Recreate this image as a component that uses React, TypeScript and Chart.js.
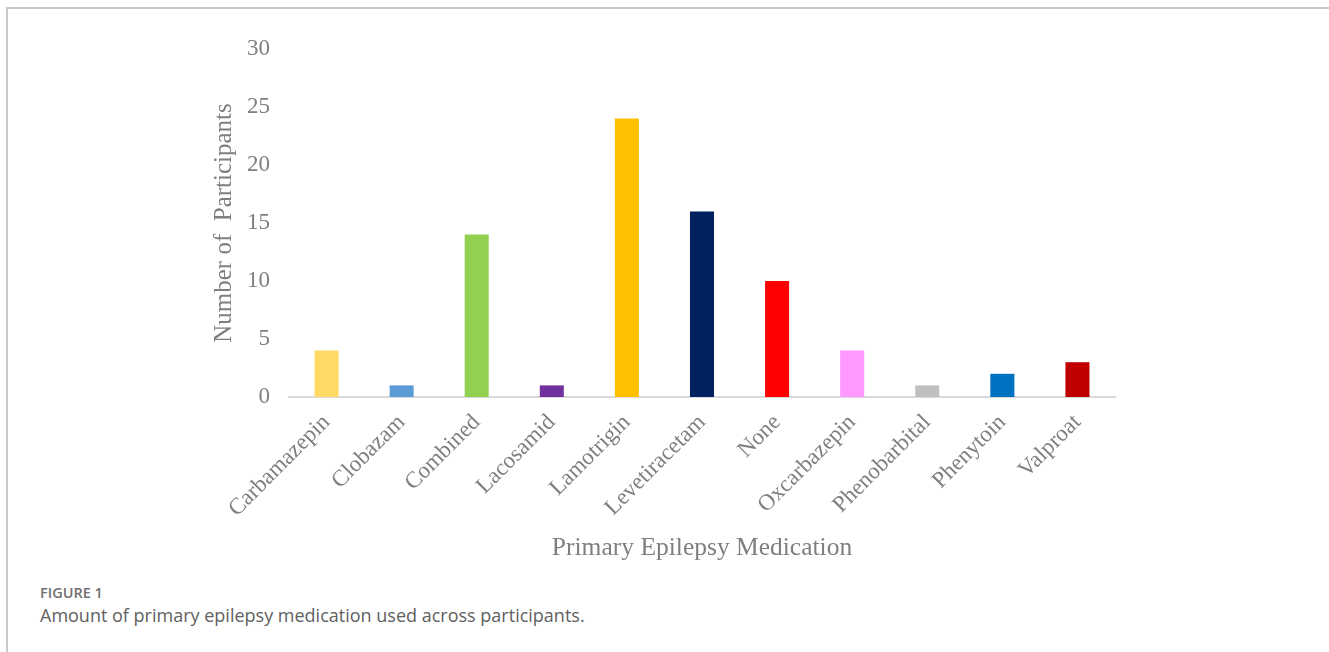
import React, { useEffect, useRef } from "react";
import { Chart, registerables } from "chart.js";

Chart.register(...registerables);

const categories = [
  "Carbamazepin",
  "Clobazam",
  "Combined",
  "Lacosamid",
  "Lamotrigin",
  "Levetiracetam",
  "None",
  "Oxcarbazepin",
  "Phenobarbital",
  "Phenytoin",
  "Valproat",
];
const participants = [4, 1, 14, 1, 24, 16, 10, 4, 1, 2, 3];
const barColors = [
  "#FFD966",
  "#5B9BD5",
  "#92D050",
  "#7030A0",
  "#FFC000",
  "#002060",
  "#FF0000",
  "#FF99FF",
  "#BFBFBF",
  "#0070C0",
  "#C00000",
];
const yTicks = [0, 5, 10, 15, 20, 25, 30];

const TEXT = "#7f7f7f";
const SERIF = "'Liberation Serif', 'Times New Roman', serif";

export default function App() {
  const ref = useRef<HTMLCanvasElement | null>(null);

  useEffect(() => {
    if (!ref.current) return;
    const chart = new Chart(ref.current, {
      type: "bar",
      data: {
        labels: categories,
        datasets: [
          {
            data: participants,
            backgroundColor: barColors,
            borderWidth: 0,
            categoryPercentage: 1,
            barPercentage: 0.32,
          },
        ],
      },
      options: {
        animation: false,
        responsive: false,
        maintainAspectRatio: false,
        layout: { padding: { left: 201, right: 214, top: 40, bottom: 15 } },
        plugins: { legend: { display: false }, tooltip: { enabled: false } },
        scales: {
          x: {
            grid: { display: false, drawTicks: false, tickLength: 0 },
            border: { display: true, color: "#d9d9d9", width: 2 },
            ticks: {
              color: TEXT,
              font: { family: SERIF, size: 23 },
              minRotation: 45,
              maxRotation: 45,
              autoSkip: false,
              padding: 12,
            },
            title: {
              display: true,
              text: "Primary Epilepsy Medication",
              color: TEXT,
              font: { family: SERIF, size: 25.5 },
              padding: 0,
            },
            afterFit: (s: any) => {
              s.height = 167;
            },
          },
          y: {
            min: 0,
            max: 30,
            afterBuildTicks: (s: any) => {
              s.ticks = yTicks.map((v) => ({ value: v }));
            },
            grid: { display: false, drawTicks: false, tickLength: 0 },
            border: { display: false },
            ticks: {
              color: TEXT,
              font: { family: SERIF, size: 23 },
              padding: 19,
            },
            title: {
              display: true,
              text: "Number of  Participants",
              color: TEXT,
              font: { family: SERIF, size: 25 },
              padding: 0,
            },
            afterFit: (s: any) => {
              s.width = 80;
            },
          },
        },
      },
    });
    return () => chart.destroy();
  }, []);

  return (
    <div style={{ position: "relative", height: 644, background: "#fff" }}>
      <div
        style={{
          position: "fixed",
          left: 6,
          top: 7,
          width: 1323,
          height: 2,
          background: "#c8c8c8",
        }}
      />
      <div
        style={{
          position: "fixed",
          left: 6,
          top: 7,
          width: 2,
          height: 645,
          background: "#c8c8c8",
        }}
      />
      <canvas
        ref={ref}
        width={1321}
        height={570}
        style={{ position: "absolute", left: 0, top: 1, width: 1321, height: 570 }}
      />
      <div
        style={{
          position: "absolute",
          left: 32,
          top: 575,
          fontFamily: "'Open Sans', Lato, sans-serif",
          fontSize: 14.5,
          fontWeight: 600,
          color: "#707070",
        }}
      >
        FIGURE 1
      </div>
      <div
        style={{
          position: "absolute",
          left: 32,
          top: 595,
          fontFamily: "'Open Sans', Lato, sans-serif",
          fontSize: 18,
          color: "#606060",
          whiteSpace: "nowrap",
        }}
      >
        Amount of primary epilepsy medication used across participants.
      </div>
    </div>
  );
}
